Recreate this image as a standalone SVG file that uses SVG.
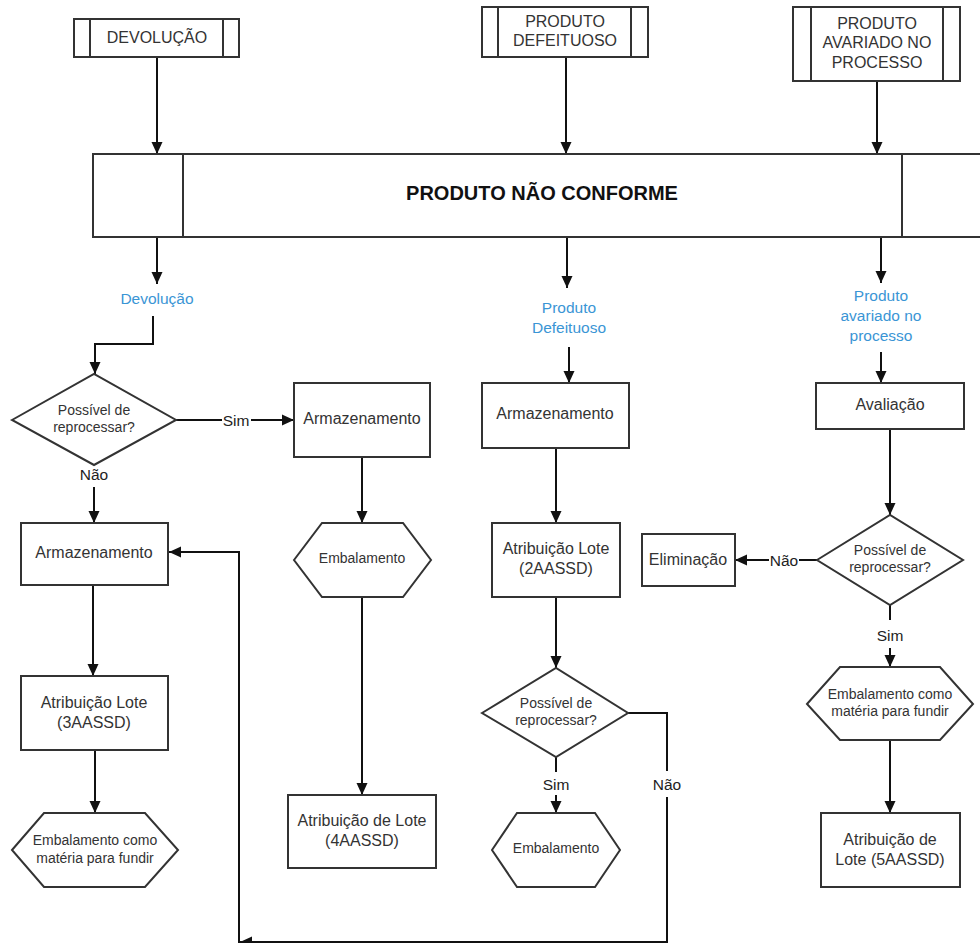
<svg xmlns="http://www.w3.org/2000/svg" width="980" height="943" viewBox="0 0 980 943">
<defs>
<marker id="ah" viewBox="0 0 12 12" refX="12" refY="6" markerWidth="12" markerHeight="12" markerUnits="userSpaceOnUse" orient="auto">
<path d="M0,0.5 L12,6 L0,11.5 z" fill="#111"/>
</marker>
<style>
.s{fill:#fff;stroke:#333;stroke-width:2}
.l{fill:none;stroke:#333;stroke-width:2}
.c{fill:none;stroke:#111;stroke-width:2}
.a{marker-end:url(#ah)}
text{font-family:"Liberation Sans",Arial,sans-serif;text-anchor:middle;fill:#333}
.t{font-size:16px}
.sm{font-size:14px}
.lb{font-size:15.5px;fill:#222}
.bl{font-size:15.5px;fill:#3a95d5}
.hd{font-size:16px}
.ti{font-size:20px;font-weight:bold;fill:#111}
</style>
</defs>
<rect width="980" height="943" fill="#fff"/>

<g id="connectors">
<path class="c a" d="M157,57 V154"/>
<path class="c a" d="M566,57 V154"/>
<path class="c a" d="M877,81 V154"/>
<path class="c a" d="M157,237 V284"/>
<path class="c a" d="M567,237 V288"/>
<path class="c a" d="M881,237 V283"/>
<path class="c a" d="M153,316 V344 H95 V374"/>
<path class="c" d="M176,420 H222"/>
<path class="c a" d="M251,420 H294"/>
<path class="c a" d="M94,487 V523"/>
<path class="c a" d="M362,457 V523"/>
<path class="c a" d="M362,597 V795"/>
<path class="c a" d="M93,585 V676"/>
<path class="c a" d="M95,750 V813"/>
<path class="c" d="M628,713 H667 V771"/>
<path class="c a" d="M667,797 V942 H240"/>
<path class="c a" d="M239,945 V552 H169"/>
<path class="c a" d="M569,347 V383"/>
<path class="c a" d="M556,448 V523"/>
<path class="c a" d="M556,597 V668"/>
<path class="c" d="M556,757 V772"/>
<path class="c a" d="M556,795 V813"/>
<path class="c a" d="M881,352 V383"/>
<path class="c a" d="M890,429 V515"/>
<path class="c" d="M817,560 H799"/>
<path class="c a" d="M769,560 H735"/>
<path class="c" d="M890,605 V620"/>
<path class="c a" d="M890,648 V667"/>
<path class="c a" d="M890,740 V813"/>
<text class="lb" x="236" y="426">Sim</text>
<text class="lb" x="94" y="480">Não</text>
<text class="lb" x="667" y="790">Não</text>
<text class="lb" x="556" y="790">Sim</text>
<text class="lb" x="784" y="566">Não</text>
<text class="lb" x="890" y="641">Sim</text>
</g>

<g id="h-devolucao">
<rect class="s" x="74" y="19" width="165" height="38"/>
<path class="l" d="M90,19 V57 M223,19 V57"/>
<text class="hd" x="157" y="43">DEVOLUÇÃO</text>
</g>
<g id="h-defeituoso">
<rect class="s" x="482" y="7" width="166" height="50"/>
<path class="l" d="M498,7 V57 M631,7 V57"/>
<text class="hd" x="565" y="26.5">PRODUTO</text>
<text class="hd" x="565" y="45.5">DEFEITUOSO</text>
</g>
<g id="h-avariado">
<rect class="s" x="793" y="7" width="167" height="74"/>
<path class="l" d="M811,7 V81 M943,7 V81"/>
<text class="hd" x="877" y="28.5">PRODUTO</text>
<text class="hd" x="877" y="48">AVARIADO NO</text>
<text class="hd" x="877" y="67.5">PROCESSO</text>
</g>
<g id="nao-conforme">
<rect class="s" x="93" y="154" width="897" height="83"/>
<path class="l" d="M183,154 V237 M902,154 V237"/>
<text class="ti" x="542" y="200">PRODUTO NÃO CONFORME</text>
</g>

<g id="lbl-devolucao"><text class="bl" x="157" y="304">Devolução</text></g>
<g id="lbl-defeituoso">
<text class="bl" x="569" y="313">Produto</text>
<text class="bl" x="569" y="333">Defeituoso</text>
</g>
<g id="lbl-avariado">
<text class="bl" x="881" y="301">Produto</text>
<text class="bl" x="881" y="321">avariado no</text>
<text class="bl" x="881" y="341">processo</text>
</g>

<g id="d1">
<polygon class="s" points="12,420 94,374 176,420 94,465"/>
<text class="sm" x="94" y="415">Possível de</text>
<text class="sm" x="94" y="432">reprocessar?</text>
</g>
<g id="arm-sim">
<rect class="s" x="294" y="383" width="136" height="74"/>
<text class="t" x="362" y="424">Armazenamento</text>
</g>
<g id="emb1">
<polygon class="s" points="294,560 322,523 403,523 431,560 403,597 322,597"/>
<text class="sm" x="362" y="563">Embalamento</text>
</g>
<g id="lote4">
<rect class="s" x="288" y="795" width="148" height="73"/>
<text class="t" x="362" y="826">Atribuição de Lote</text>
<text class="t" x="362" y="846">(4AASSD)</text>
</g>
<g id="arm-nao">
<rect class="s" x="21" y="523" width="147" height="62"/>
<text class="t" x="94" y="558">Armazenamento</text>
</g>
<g id="lote3">
<rect class="s" x="21" y="676" width="147" height="74"/>
<text class="t" x="94" y="707.5">Atribuição Lote</text>
<text class="t" x="94" y="727.5">(3AASSD)</text>
</g>
<g id="emb-fundir1">
<polygon class="s" points="12,850 44,813 145,813 178,850 145,887 44,887"/>
<text class="sm" x="95" y="845">Embalamento como</text>
<text class="sm" x="95" y="863">matéria para fundir</text>
</g>

<g id="arm-def">
<rect class="s" x="482" y="383" width="147" height="65"/>
<text class="t" x="555" y="419">Armazenamento</text>
</g>
<g id="lote2">
<rect class="s" x="492" y="523" width="128" height="74"/>
<text class="t" x="556" y="554">Atribuição Lote</text>
<text class="t" x="556" y="574">(2AASSD)</text>
</g>
<g id="d2">
<polygon class="s" points="482,713 556,668 628,713 556,757"/>
<text class="sm" x="556" y="708">Possível de</text>
<text class="sm" x="556" y="725">reprocessar?</text>
</g>
<g id="emb2">
<polygon class="s" points="492,850 517,813 595,813 620,850 595,887 517,887"/>
<text class="sm" x="556" y="853">Embalamento</text>
</g>

<g id="avaliacao">
<rect class="s" x="816" y="383" width="148" height="46"/>
<text class="t" x="890" y="410">Avaliação</text>
</g>
<g id="d3">
<polygon class="s" points="817,560 890,515 963,560 890,605"/>
<text class="sm" x="890" y="555">Possível de</text>
<text class="sm" x="890" y="572">reprocessar?</text>
</g>
<g id="eliminacao">
<rect class="s" x="642" y="534" width="93" height="52"/>
<text class="t" x="688" y="565">Eliminação</text>
</g>
<g id="emb-fundir2">
<polygon class="s" points="807,704 840,667 940,667 973,704 940,740 840,740"/>
<text class="sm" x="890" y="699">Embalamento como</text>
<text class="sm" x="890" y="716">matéria para fundir</text>
</g>
<g id="lote5">
<rect class="s" x="821" y="813" width="139" height="74"/>
<text class="t" x="890" y="845">Atribuição de</text>
<text class="t" x="890" y="865">Lote (5AASSD)</text>
</g>
</svg>
